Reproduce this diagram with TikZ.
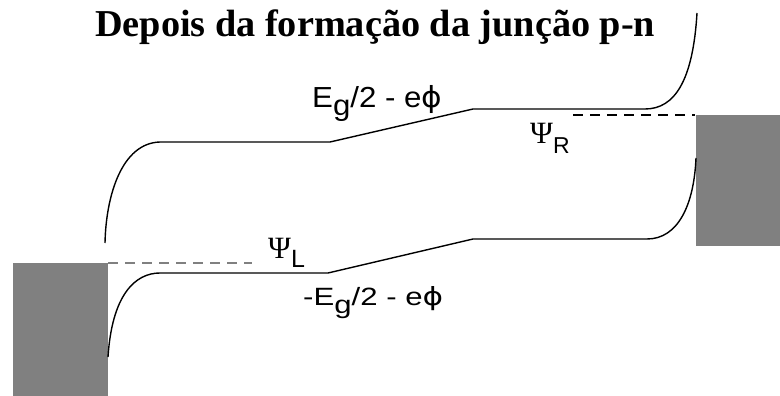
\documentclass[tikz,border=0pt]{standalone}
\usepackage{fontspec}
\setmainfont{Liberation Serif}
\newfontfamily\sfl{Liberation Sans}
\newfontfamily\serl{Liberation Serif}
\newfontfamily\dvs{DejaVu Sans}
\usepackage{graphicx}
\newcommand{\myphi}{{\dvs ϕ}}
\begin{document}
\begin{tikzpicture}[x=1pt,y=-1pt,
  band/.style={line width=1.4pt, black},
  fermi/.style={line width=1.7pt, dash pattern=on 10pt off 7pt},
  metal/.style={fill={rgb,255:red,128;green,128;blue,128}, draw=none},
  lbl/.style={anchor=base west, inner sep=0pt}]
\useasboundingbox (0,0) rectangle (780,396);
% metal contacts
\fill[metal] (13,263) rectangle (108,396);
\fill[metal] (696,115) rectangle (780,246);
% Fermi levels
\coordinate (fl1) at (108,263);
\coordinate (fl2) at (252,263);
\coordinate (fr1) at (573,115);
\coordinate (fr2) at (695,115);
\draw[fermi, gray] (fl1) -- (fl2);
\draw[fermi] (fr1) -- (fr2);
% conduction band
\coordinate (c0) at (105,243);
\coordinate (c1) at (160,142);
\coordinate (c2) at (330,142);
\coordinate (c3) at (473,109);
\coordinate (c4) at (645,109);
\coordinate (c5) at (697,13);
\draw[band] (c0) .. controls (106,195) and (122,143) .. (c1) -- (c2) -- (c3) -- (c4)
  .. controls (675,109) and (693,80) .. (c5);
% valence band
\coordinate (v0) at (696,158);
\coordinate (v1) at (647,239);
\coordinate (v2) at (473,239);
\coordinate (v3) at (328,273);
\coordinate (v4) at (160,273);
\coordinate (v5) at (108,357);
\draw[band] (v0) .. controls (694,205) and (678,239) .. (v1) -- (v2) -- (v3) -- (v4)
  .. controls (135,273) and (112,295) .. (v5);
% labels
\node[lbl] (title) at (95,37) {\resizebox{560pt}{\height}{\fontsize{38}{38}\selectfont\bfseries Depois da formação da junção p-n}};
\node[lbl] (eup) at (312,107) {\resizebox{130pt}{\height}{\sfl\fontsize{29}{29}\selectfont E\raisebox{-8pt}{g}/2 - e\myphi}};
\node[lbl] (elo) at (303,305) {\resizebox{140pt}{\height}{\sfl\fontsize{25}{25}\selectfont -E\raisebox{-8pt}{g}/2 - e\myphi}};
\node[lbl] (psil) at (268,258) {{\serl\fontsize{31}{31}\selectfont Ψ}\raisebox{-9pt}{\sfl\fontsize{25}{25}\selectfont L}};
\node[lbl] (psir) at (530,143) {{\serl\fontsize{31}{31}\selectfont Ψ}\raisebox{-10pt}{\sfl\fontsize{23}{23}\selectfont R}};
\end{tikzpicture}
\end{document}
